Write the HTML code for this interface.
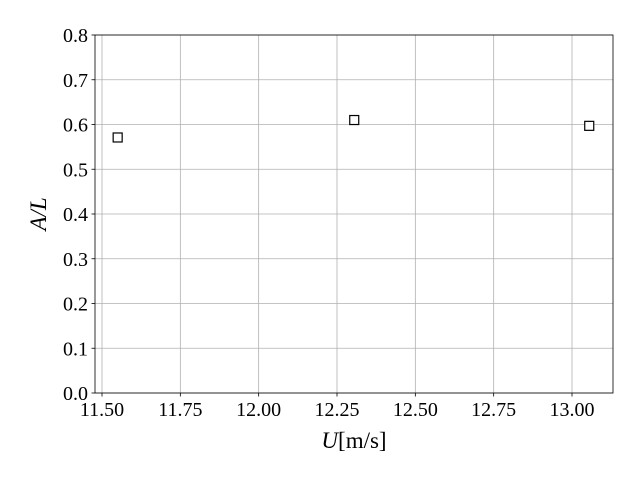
<!DOCTYPE html>
<html><head><meta charset="utf-8"><style>
body{margin:0;background:#fff;}
svg{display:block;font-family:"Liberation Serif",serif;}
</style></head><body>
<svg id="chart" width="640" height="480">
<rect width="640" height="480" fill="#fff"/>
</svg>
<script>
const xs=[11.55,12.305,13.055];
const ys=[0.571,0.610,0.597];
const xTicks=[11.5,11.75,12.0,12.25,12.5,12.75,13.0];
const xTickLabels=["11.50","11.75","12.00","12.25","12.50","12.75","13.00"];
const yTicks=[0,0.1,0.2,0.3,0.4,0.5,0.6,0.7,0.8];
const yTickLabels=["0.0","0.1","0.2","0.3","0.4","0.5","0.6","0.7","0.8"];
const NS="http://www.w3.org/2000/svg";
const svg=document.getElementById('chart');
const L=95,R=613,T=35,B=393;
function xp(v){return 102+(v-11.5)*(572-102)/1.5;}
function yp(v){return B-(v/0.8)*(B-T);}
function mk(t,a,p){const e=document.createElementNS(NS,t);for(const k in a)e.setAttribute(k,a[k]);(p||svg).appendChild(e);return e;}
const grid=mk('g',{});


xTicks.forEach((v,i)=>{const x=xp(v);
 const g=mk('line',{x1:x,x2:x,y1:T,y2:B,stroke:'#b0b0b0','stroke-width':0.8},grid);
 
 
 mk('line',{x1:x,x2:x,y1:B,y2:B+3.5,stroke:'#000','stroke-width':0.8});
 const t=mk('text',{x:x,y:B+23,'text-anchor':'middle','font-size':20});
 t.textContent=xTickLabels[i];
 
 
});
yTicks.forEach((v,i)=>{const y=yp(v);
 const g=mk('line',{x1:L,x2:R,y1:y,y2:y,stroke:'#b0b0b0','stroke-width':0.8},grid);
 
 
 mk('line',{x1:L-3.5,x2:L,y1:y,y2:y,stroke:'#000','stroke-width':0.8});
 const t=mk('text',{x:L-7,y:y+7,'text-anchor':'end','font-size':20});
 t.textContent=yTickLabels[i];
 
 
});
const fr=mk('rect',{x:L,y:T,width:R-L,height:B-T,fill:'none',stroke:'#000','stroke-width':0.8});


xs.forEach((v,i)=>{
 const p=mk('rect',{x:xp(v)-4.5,y:yp(ys[i])-4.5,width:9,height:9,fill:'#fff',stroke:'#000','stroke-width':1.2});
 
 
});
const xl=mk('text',{x:(L+R)/2,y:448,'text-anchor':'middle','font-size':23});
xl.innerHTML='<tspan font-style="italic">U</tspan>[m/s]';


const yl=mk('text',{x:0,y:0,'text-anchor':'middle','font-size':23,'font-style':'italic',transform:'translate(46,214) rotate(-90)'});
yl.textContent='A/L';


</script>
</body></html>
